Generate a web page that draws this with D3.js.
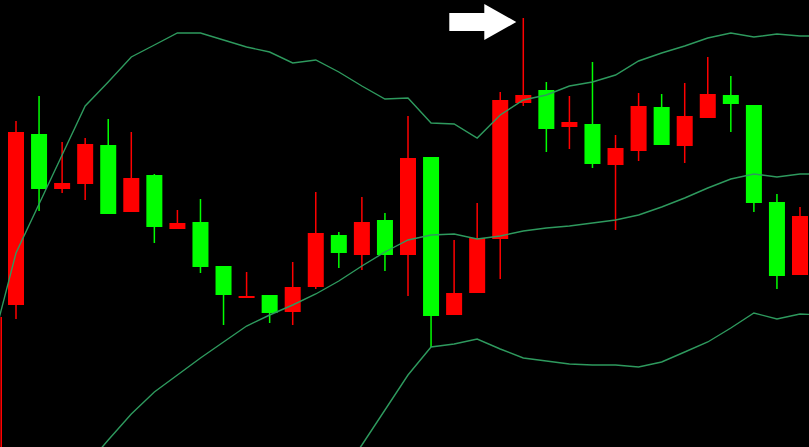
<!DOCTYPE html>
<html>
<head>
<meta charset="utf-8">
<script src="https://cdn.jsdelivr.net/npm/d3@7"></script>
<style>
  html, body { margin: 0; padding: 0; background: #000; }
  svg { display: block; }
</style>
</head>
<body>
<svg id="chart" width="809" height="447"></svg>
<script>
// ---- Data (chart price units) ----
const opens  = [142,313,258,263,302,235,272,218,225,181,149,152,135,160,212,192,227,192,290,132,154,208,344,357,320,323,282,296,340,301,329,352,342,245,172];
const closes = [315,258,264,303,233,269,220,224,180,152,151,134,160,214,194,225,192,289,131,154,209,347,352,318,325,283,299,341,302,331,353,343,244,171,231];
const highs  = [326,351,305,309,328,315,273,237,248,181,175,152,185,255,215,250,234,331,290,207,244,355,429,365,351,385,312,354,353,364,390,371,342,253,240];
const lows   = [128,236,254,247,233,235,204,218,174,122,149,124,122,158,179,177,176,151,100,132,154,168,341,295,298,279,217,286,302,284,329,315,235,158,172];

// Bollinger bands, one value per bar index from -1 to 35 (null = not shown)
const bandIndex = d3.range(-1, 36);
const upperBand  = [105,194,243,292,341,365,390,402,414,414,407,400,395,384,387,375,361,348,349,324,323,309,332,347,352,361,365,372,386,394,401,409,414,410,413,411,411];
const middleBand = [null,null,null,null,-20,7,33,55,72,89,105,121,132,142,153,166,181,195,207,212,213,208,211,216,219,221,224,227,232,240,249,259,268,273,270,273,273];
const lowerBand  = [null,null,null,null,null,null,null,null,null,null,null,null,null,null,null,-31,2,37,72,100,103,108,98,89,86,83,82,82,80,85,95,105,119,134,128,133,132];

const arrowTarget = 22;      // bar the arrow points to
const arrowLevel = 425;      // price level of arrow tip
const leftMarkerTop = 130;   // red vertical marker at left edge

// ---- Layout ----
const W = 809, H = 447;
const svg = d3.select("#chart");
svg.append("rect").attr("width", W).attr("height", H).attr("fill", "#000");

const x = d3.scaleLinear().domain([0, 34]).range([16, 800]);
const y = d3.scaleLinear().domain([0, 447]).range([447, 0]);

const bodyW = 16;
const upColor = "#ff0000", downColor = "#00ff00";
const candles = opens.map((o, i) => ({ i, o, c: closes[i], h: highs[i], l: lows[i] }));

// left red marker
svg.append("line")
  .attr("x1", 1.2).attr("x2", 1.2)
  .attr("y1", y(leftMarkerTop)).attr("y2", H)
  .attr("stroke", upColor).attr("stroke-width", 1.6);

const g = svg.append("g");
g.selectAll("line.wick").data(candles).join("line")
  .attr("class", "wick")
  .attr("x1", d => x(d.i)).attr("x2", d => x(d.i))
  .attr("y1", d => y(d.h)).attr("y2", d => y(d.l))
  .attr("stroke", d => d.c >= d.o ? upColor : downColor)
  .attr("stroke-width", 1.5);

g.selectAll("rect.body").data(candles).join("rect")
  .attr("class", "body")
  .attr("x", d => x(d.i) - bodyW / 2)
  .attr("width", bodyW)
  .attr("y", d => y(Math.max(d.o, d.c)))
  .attr("height", d => Math.max(1.5, Math.abs(y(d.o) - y(d.c))))
  .attr("fill", d => d.c >= d.o ? upColor : downColor);

// bands
const line = d3.line()
  .defined(d => d[1] !== null)
  .x(d => x(d[0])).y(d => y(d[1]));
[upperBand, middleBand, lowerBand].forEach(b => {
  svg.append("path")
    .datum(bandIndex.map((k, j) => [k, b[j]]))
    .attr("d", line)
    .attr("fill", "none")
    .attr("stroke", "#2e9a5e")
    .attr("stroke-width", 1.4);
});

// arrow
const tx = x(arrowTarget) - 7, ty = y(arrowLevel);
const arrowPts = [
  [tx - 67, ty - 9], [tx - 32, ty - 9], [tx - 32, ty - 18], [tx, ty],
  [tx - 32, ty + 18], [tx - 32, ty + 9], [tx - 67, ty + 9]
];
svg.append("polygon")
  .attr("points", arrowPts.map(p => p.join(",")).join(" "))
  .attr("fill", "#ffffff");
</script>
</body>
</html>
